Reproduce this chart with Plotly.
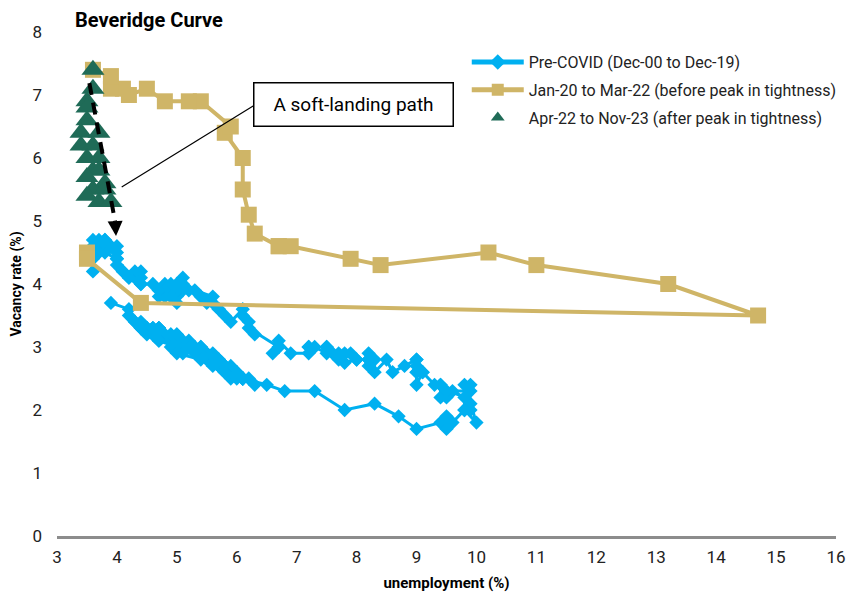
import plotly.graph_objects as go

# ---------------- data ----------------
# Pre-COVID (Dec-00 to Dec-19): unemployment (%) and vacancy rate (%)
pre_u = [3.9,
         4.2, 4.2, 4.3, 4.4, 4.3, 4.5, 4.6, 4.9, 5.0, 5.3, 5.5, 5.7,
         5.7, 5.7, 5.7, 5.9, 5.8, 5.8, 5.8, 5.7, 5.7, 5.7, 5.9, 6.0,
         5.8, 5.9, 5.9, 6.0, 6.1, 6.3, 6.2, 6.1, 6.1, 6.0, 5.8, 5.7,
         5.7, 5.6, 5.8, 5.6, 5.6, 5.6, 5.5, 5.4, 5.4, 5.5, 5.4, 5.4,
         5.3, 5.4, 5.2, 5.2, 5.1, 5.0, 5.0, 4.9, 5.0, 5.0, 5.0, 4.9,
         4.7, 4.8, 4.7, 4.7, 4.6, 4.6, 4.7, 4.7, 4.5, 4.4, 4.5, 4.4,
         4.6, 4.5, 4.4, 4.5, 4.4, 4.6, 4.7, 4.6, 4.7, 4.7, 4.7, 5.0,
         5.0, 4.9, 5.1, 5.0, 5.4, 5.6, 5.8, 6.1, 6.1, 6.5, 6.8, 7.3,
         7.8, 8.3, 8.7, 9.0, 9.4, 9.5, 9.5, 9.6, 9.8, 10.0, 9.9, 9.9,
         9.8, 9.8, 9.9, 9.9, 9.6, 9.4, 9.4, 9.5, 9.5, 9.4, 9.8, 9.3,
         9.1, 9.0, 9.0, 9.1, 9.0, 9.1, 9.0, 9.0, 9.0, 8.8, 8.6, 8.5,
         8.3, 8.3, 8.2, 8.2, 8.2, 8.2, 8.2, 8.0, 7.8, 7.8, 7.7, 7.9,
         8.0, 7.7, 7.5, 7.6, 7.5, 7.5, 7.3, 7.2, 7.2, 7.2, 6.9, 6.7,
         6.6, 6.7, 6.7, 6.2, 6.3, 6.1, 6.2, 6.1, 5.9, 5.7, 5.8, 5.6,
         5.7, 5.5, 5.4, 5.4, 5.6, 5.3, 5.2, 5.1, 5.0, 5.0, 5.1, 5.0,
         4.8, 4.9, 5.0, 5.1, 4.8, 4.9, 4.8, 4.9, 5.0, 4.9, 4.7, 4.7,
         4.7, 4.6, 4.4, 4.4, 4.4, 4.3, 4.3, 4.4, 4.3, 4.2, 4.2, 4.1,
         4.0, 4.1, 4.0, 4.0, 3.8, 4.0, 3.8, 3.8, 3.7, 3.8, 3.8, 3.9,
         4.0, 3.8, 3.8, 3.7, 3.6, 3.6, 3.7, 3.6, 3.5, 3.6, 3.6, 3.6]
pre_v = [3.7,
         3.6, 3.5, 3.4, 3.3, 3.4, 3.3, 3.2, 3.1, 3.1, 2.9, 2.8, 2.8,
         2.8, 2.8, 2.7, 2.7, 2.7, 2.6, 2.7, 2.8, 2.7, 2.7, 2.6, 2.6,
         2.7, 2.6, 2.5, 2.5, 2.5, 2.4, 2.5, 2.5, 2.5, 2.6, 2.6, 2.7,
         2.7, 2.8, 2.7, 2.8, 2.9, 2.8, 2.9, 2.9, 2.9, 2.9, 2.9, 3.0,
         3.0, 3.0, 3.1, 3.0, 3.1, 3.1, 3.1, 3.2, 3.2, 3.1, 3.2, 3.2,
         3.3, 3.2, 3.3, 3.3, 3.3, 3.2, 3.3, 3.2, 3.3, 3.3, 3.2, 3.3,
         3.3, 3.3, 3.4, 3.3, 3.3, 3.3, 3.2, 3.2, 3.2, 3.1, 3.1, 3.0,
         3.0, 3.0, 2.9, 2.9, 2.8, 2.7, 2.6, 2.5, 2.5, 2.4, 2.3, 2.3,
         2.0, 2.1, 1.9, 1.7, 1.8, 1.7, 1.9, 1.8, 2.0, 1.8, 2.1, 2.0,
         2.4, 2.0, 2.4, 2.3, 2.3, 2.4, 2.2, 2.2, 2.3, 2.4, 2.2, 2.4,
         2.6, 2.4, 2.6, 2.6, 2.8, 2.6, 2.7, 2.6, 2.8, 2.7, 2.6, 2.8,
         2.6, 2.8, 2.8, 2.8, 2.9, 2.7, 2.8, 2.8, 2.75, 2.9, 2.8, 2.9,
         2.8, 2.9, 3.0, 2.9, 3.0, 2.9, 3.0, 3.0, 3.0, 2.9, 2.9, 3.1,
         2.9, 3.0, 3.0, 3.3, 3.2, 3.5, 3.4, 3.6, 3.4, 3.6, 3.5, 3.7,
         3.6, 3.7, 3.8, 3.8, 3.8, 3.9, 3.9, 3.9, 3.8, 3.9, 4.0, 3.9,
         4.0, 3.9, 4.0, 4.1, 3.8, 4.0, 3.9, 3.8, 3.7, 3.8, 3.9, 3.8,
         3.9, 4.0, 4.0, 4.1, 4.0, 4.1, 4.1, 4.2, 4.2, 4.1, 4.1, 4.2,
         4.4, 4.2, 4.3, 4.4, 4.5, 4.6, 4.6, 4.7, 4.7, 4.6, 4.6, 4.6,
         4.5, 4.6, 4.7, 4.6, 4.5, 4.6, 4.5, 4.7, 4.4, 4.5, 4.4, 4.2]

# Jan-20 to Mar-22 (before peak in tightness)
mid_u = [3.5, 3.5, 4.4, 14.7, 13.2, 11.0, 10.2, 8.4, 7.9, 6.9, 6.7, 6.7,
         6.3, 6.2, 6.1, 6.1, 5.8, 5.9, 5.4, 5.2, 4.8, 4.5, 4.2, 4.1,
         3.9, 3.9, 3.6]
mid_v = [4.5, 4.4, 3.7, 3.5, 4.0, 4.3, 4.5, 4.3, 4.4, 4.6, 4.6, 4.6,
         4.8, 5.1, 5.5, 6.0, 6.4, 6.5, 6.9, 6.9, 6.9, 7.1, 7.0, 7.1,
         7.1, 7.3, 7.4]

# Apr-22 to Nov-23 (after peak in tightness)
post_u = [3.6, 3.6, 3.5, 3.5, 3.5, 3.4, 3.7, 3.4, 3.6, 3.5,
          3.7, 3.6, 3.7, 3.5, 3.8, 3.6, 3.5, 3.8, 3.7, 3.9]
post_v = [7.4, 7.1, 6.9, 6.8, 6.6, 6.4, 6.4, 6.2, 6.2, 6.0,
          6.0, 5.8, 5.8, 5.7, 5.6, 5.5, 5.4, 5.5, 5.3, 5.3]

series_names = ["Pre-COVID (Dec-00 to Dec-19)",
                "Jan-20 to Mar-22 (before peak in tightness)",
                "Apr-22 to Nov-23 (after peak in tightness)"]

x_ticks = list(range(3, 17))
y_ticks = list(range(0, 9))

# annotation anchors (data coordinates)
path_start = (3.54, 7.19)
path_end = (3.97, 4.99)
arrow_tip = (3.985, 4.76)
label_pos = (7.95, 6.85)
pointer_from = (6.3, 6.84)
pointer_to = (4.08, 5.54)

BLUE = "#00B0F0"
GOLD = "#CFB567"
GREEN = "#1F6B57"
FONT = "Roboto, sans-serif"

fig = go.Figure()
fig.add_trace(go.Scatter(
    x=pre_u, y=pre_v, mode="lines+markers", name=series_names[0],
    legendgroup="a",
    line=dict(color=BLUE, width=3),
    marker=dict(symbol="diamond", size=11, color=BLUE)))
fig.add_trace(go.Scatter(
    x=mid_u, y=mid_v, mode="lines+markers", name=series_names[1],
    legendgroup="b",
    line=dict(color=GOLD, width=4),
    marker=dict(symbol="square", size=16, color=GOLD)))
fig.add_trace(go.Scatter(
    x=post_u, y=post_v, mode="markers", name=series_names[2],
    legendgroup="c",
    marker=dict(symbol="triangle-up", size=20, color=GREEN)))

# dashed soft-landing path
fig.add_shape(type="line", x0=path_start[0], y0=path_start[1],
              x1=path_end[0], y1=path_end[1],
              line=dict(color="black", width=4, dash="12px,8px"))
fig.add_annotation(x=arrow_tip[0], y=arrow_tip[1], ax=path_end[0], ay=path_end[1],
                   axref="x", ayref="y", xref="x", yref="y", text="",
                   showarrow=True, arrowhead=2, arrowsize=1.0, arrowwidth=3,
                   arrowcolor="black")
# pointer line to label box
fig.add_shape(type="line", x0=pointer_from[0], y0=pointer_from[1],
              x1=pointer_to[0], y1=pointer_to[1],
              line=dict(color="black", width=1.2))
fig.add_annotation(x=label_pos[0], y=label_pos[1], xref="x", yref="y",
                   text="A soft-landing path", showarrow=False,
                   font=dict(family=FONT, size=19, color="black"),
                   bgcolor="white", bordercolor="black", borderwidth=1.5,
                   borderpad=5, width=188, height=32)

# page body has an 8px margin; keep the figure inside the window (no scrollbars)
fig.update_layout(
    width=844, height=584,
    margin=dict(l=49, r=10, t=24, b=56),
    paper_bgcolor="white", plot_bgcolor="white",
    font=dict(family=FONT, size=16, color="#222"),
    title=dict(text="<b>Beveridge Curve</b>", x=0.0794, xanchor="left",
               y=0.979, yanchor="middle", yref="container",
               font=dict(family=FONT, size=20, color="black")),
    legend=dict(x=0.526, y=0.974, xanchor="left", yanchor="top",
                font=dict(family=FONT, size=16, color="#222"),
                bgcolor="rgba(0,0,0,0)", itemsizing="constant",
                itemwidth=52, tracegroupgap=4),
    showlegend=True,
)
fig.update_xaxes(range=[3, 16], tickvals=x_ticks, showgrid=False, zeroline=False,
                 showline=True, linecolor="#8C8C8C", linewidth=3,
                 ticks="", ticklabelstandoff=4, automargin=False,
                 tickfont=dict(family=FONT, size=17, color="#222"),
                 title=dict(text="<b>unemployment (%)</b>", standoff=17,
                            font=dict(family=FONT, size=15, color="black")))
fig.update_yaxes(range=[0, 8], tickvals=y_ticks, showgrid=False, zeroline=False,
                 showline=False, ticks="", ticklabelstandoff=14, automargin=False,
                 tickfont=dict(family=FONT, size=17, color="#222"),
                 title=dict(text="<b>Vacancy rate (%)</b>", standoff=10,
                            font=dict(family=FONT, size=14, color="black")))

fig.write_html("out.html")
